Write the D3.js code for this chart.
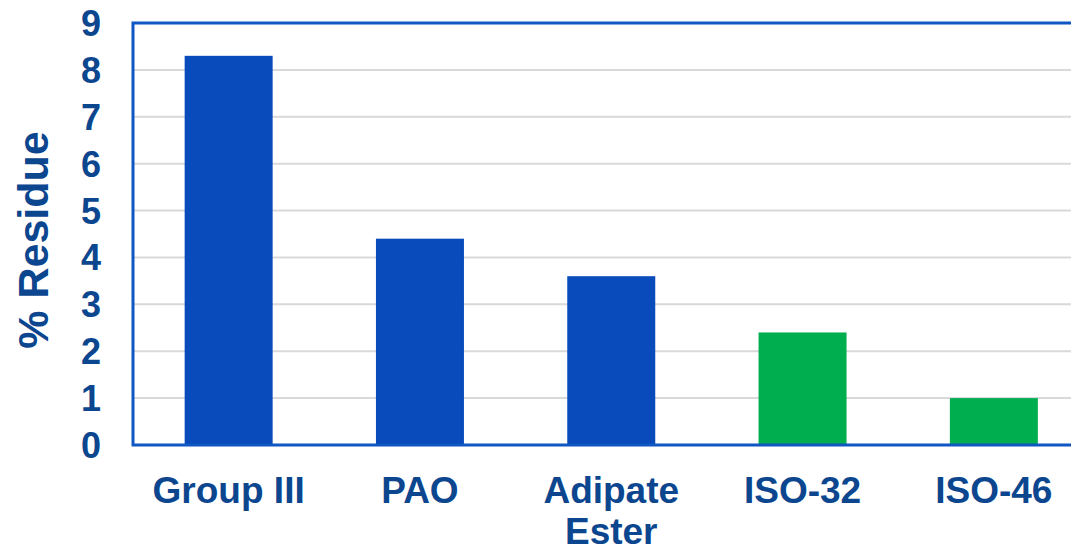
<!DOCTYPE html>
<html>
<head>
<meta charset="utf-8">
<script src="https://cdn.jsdelivr.net/npm/d3@7"></script>
<style>
    body { margin: 0; background: #fff; }
    svg text { font-family: "Liberation Sans", Arial, sans-serif; font-weight: bold; fill: #0B468F; }
</style>
</head>
<body>
<svg id="chart" width="1071" height="548"></svg>
<script>
// chart data
var categories = ["Group III", "PAO", "Adipate Ester", "ISO-32", "ISO-46"];
var residue = [8.3, 4.4, 3.6, 2.4, 1.0];
var barColors = ["#0A4BBB", "#0A4BBB", "#0A4BBB", "#00AE4F", "#00AE4F"];
var yTicks = [0, 1, 2, 3, 4, 5, 6, 7, 8, 9];

var svg = d3.select("#chart");

var plotLeft = 133, plotTop = 23, plotBottom = 445;
var step = 191.3;

var x = d3.scaleBand()
    .domain(categories)
    .range([plotLeft, plotLeft + step * categories.length])
    .paddingInner(0.54)
    .paddingOuter(0.27);

var y = d3.scaleLinear()
    .domain([0, 9])
    .range([plotBottom, plotTop]);

// gridlines
svg.append("g")
    .selectAll("line")
    .data(yTicks.filter(function (d) { return d > 0 && d < 9; }))
    .enter()
    .append("line")
    .attr("x1", plotLeft)
    .attr("x2", 1071)
    .attr("y1", function (d) { return y(d); })
    .attr("y2", function (d) { return y(d); })
    .style("stroke", "#D9D9D9")
    .style("stroke-width", 2);

// bars
svg.append("g")
    .selectAll("rect")
    .data(residue)
    .enter()
    .append("rect")
    .attr("x", function (d, i) { return x(categories[i]); })
    .attr("width", x.bandwidth())
    .attr("y", function (d) { return y(d); })
    .attr("height", function (d) { return y(0) - y(d); })
    .style("fill", function (d, i) { return barColors[i]; });

// frame: left, top and bottom lines
svg.append("path")
    .attr("d", "M1071," + y(9) + "H" + plotLeft + "V" + y(0) + "H1071")
    .style("fill", "none")
    .style("stroke", "#0F57C2")
    .style("stroke-width", 3);

// y tick labels
svg.append("g")
    .selectAll("text")
    .data(yTicks)
    .enter()
    .append("text")
    .attr("x", 101)
    .attr("y", function (d) { return y(d); })
    .attr("dy", "0.36em")
    .attr("text-anchor", "end")
    .style("font-size", "36px")
    .text(function (d) { return d; });

// category labels (wrap "Adipate Ester" on two lines)
var catLabels = svg.append("g")
    .selectAll("text")
    .data(categories)
    .enter()
    .append("text")
    .attr("x", function (d) { return x(d) + x.bandwidth() / 2; })
    .attr("y", 503)
    .attr("text-anchor", "middle")
    .style("font-size", "37px");

catLabels.each(function (d) {
    var lines = d === "Adipate Ester" ? ["Adipate", "Ester"] : [d];
    var t = d3.select(this);
    lines.forEach(function (l, i) {
        t.append("tspan")
            .attr("x", x(d) + x.bandwidth() / 2)
            .attr("dy", i === 0 ? 0 : 41)
            .text(l);
    });
});

// y axis title
svg.append("text")
    .attr("transform", "translate(48,240) rotate(-90)")
    .attr("text-anchor", "middle")
    .style("font-size", "43px")
    .text("% Residue");
</script>
</body>
</html>
